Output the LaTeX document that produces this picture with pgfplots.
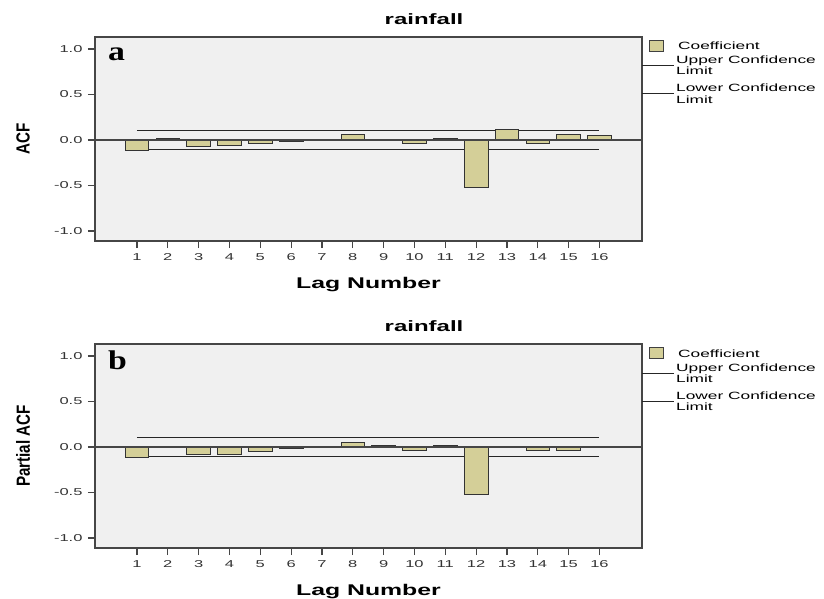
\documentclass[border=0pt]{standalone}
\usepackage{pgfplots}
\usepackage{pgfplotstable}
\pgfplotsset{compat=1.18}
\usepackage{fontspec}
\setmainfont{Liberation Sans}
\newfontfamily\tickfont[FakeStretch=1.65]{Liberation Sans}
\newfontfamily\titlefont[FakeStretch=1.6]{Liberation Sans}
\newfontfamily\ylabfont[FakeStretch=0.8]{Liberation Sans}
\newfontfamily\letterfont[FakeStretch=1.25]{Liberation Serif}
\definecolor{barfill}{RGB}{212,207,152}
\definecolor{plotbg}{RGB}{240,240,240}
\definecolor{framec}{RGB}{70,70,70}

\pgfplotstableread{
lag acf
1 -0.11
2 0.02
3 -0.07
4 -0.06
5 -0.035
6 -0.015
7 0.008
8 0.063
9 0.01
10 -0.035
11 0.02
12 -0.52
13 0.12
14 -0.04
15 0.063
16 0.047
}\acftable

\pgfplotstableread{
lag pacf
1 -0.11
2 0.005
3 -0.08
4 -0.08
5 -0.05
6 -0.02
7 0.0
8 0.047
9 0.02
10 -0.04
11 0.02
12 -0.52
13 0.005
14 -0.04
15 -0.04
16 0.0
}\pacftable

\pgfplotsset{acfstyle/.style={
  scale only axis, width=547pt, height=204pt,
  xmin=-0.362, xmax=17.38, ymin=-1.11, ymax=1.132,
  clip=false,
  axis background/.style={fill=plotbg},
  axis line style={framec, line width=1.2pt},
  xtick={1,2,3,4,5,6,7,8,9,10,11,12,13,14,15,16},
  xticklabels={1,2,3,4,5,6,7,8,9,10,11,12,13,14,15,16},
  ytick={-1,-0.5,0,0.5,1},
  yticklabels={-1.0,-0.5,0.0,0.5,1.0},
  tick align=outside, tick pos=left,
  major tick length=7pt,
  tick style={framec, line width=1.2pt},
  tick label style={font=\tickfont\fontsize{10}{12}\selectfont, text=black!80},
  xticklabel style={yshift=-2pt},
  yticklabel style={xshift=-2pt},
  xlabel={Lag Number},
  xlabel style={at={(axis description cs:0.5,-0.2304)}, anchor=base,
    font=\titlefont\bfseries\fontsize{15.5}{18}\selectfont},
  ylabel style={at={(axis description cs:-0.1316,0.5)}, anchor=center, rotate=0,
    font=\ylabfont\bfseries\fontsize{19}{21}\selectfont},
  title={rainfall},
  title style={at={(axis description cs:0.6015,1.0343)}, anchor=base,
    font=\titlefont\bfseries\fontsize{15}{17}\selectfont},
}}

\newcommand\acflegend[1]{%
  \draw[black!75, fill=barfill, line width=0.8pt]
    ([shift={(7pt,-3pt)}]#1.north east) rectangle ([shift={(21pt,-14pt)}]#1.north east);
  \node[anchor=base west, inner sep=0pt, font=\tickfont\fontsize{10.5}{12}\selectfont]
    at ([shift={(36pt,-13pt)}]#1.north east) {Coefficient};
  \draw[black!85, line width=1pt] ([shift={(0pt,-29pt)}]#1.north east) -- ([shift={(32pt,-29pt)}]#1.north east);
  \node[anchor=base west, inner sep=0pt, font=\tickfont\fontsize{10.5}{12}\selectfont]
    at ([shift={(34pt,-27pt)}]#1.north east) {Upper Confidence};
  \node[anchor=base west, inner sep=0pt, font=\tickfont\fontsize{10.5}{12}\selectfont]
    at ([shift={(34pt,-38pt)}]#1.north east) {Limit};
  \draw[black!85, line width=1pt] ([shift={(0pt,-57pt)}]#1.north east) -- ([shift={(32pt,-57pt)}]#1.north east);
  \node[anchor=base west, inner sep=0pt, font=\tickfont\fontsize{10.5}{12}\selectfont]
    at ([shift={(34pt,-55pt)}]#1.north east) {Lower Confidence};
  \node[anchor=base west, inner sep=0pt, font=\tickfont\fontsize{10.5}{12}\selectfont]
    at ([shift={(34pt,-66pt)}]#1.north east) {Limit};
}

\begin{document}
\begin{tikzpicture}
\useasboundingbox (0,0) rectangle (824pt,-599pt);

\begin{axis}[acfstyle, name=top, at={(95pt,-37pt)}, anchor=north west, ylabel={ACF}]
  \addplot[black!85, line width=1pt] coordinates {(1,0.108) (16,0.108)};
  \addplot[black!85, line width=1pt] coordinates {(1,-0.108) (16,-0.108)};
  \addplot[ybar, bar width=0.765, fill=barfill, draw=black!80, line width=0.8pt]
    table[x=lag, y=acf] {\acftable};
  \addplot[framec, line width=1.2pt] coordinates {(-0.362,0) (17.38,0)};
  \node[anchor=base west, inner sep=0pt, font=\letterfont\bfseries\fontsize{27}{28}\selectfont]
    at (axis description cs:0.0238,0.887) {a};
\end{axis}
\acflegend{top}

\begin{axis}[acfstyle, name=bot, at={(95pt,-344pt)}, anchor=north west, ylabel={Partial ACF}]
  \addplot[black!85, line width=1pt] coordinates {(1,0.108) (16,0.108)};
  \addplot[black!85, line width=1pt] coordinates {(1,-0.108) (16,-0.108)};
  \addplot[ybar, bar width=0.765, fill=barfill, draw=black!80, line width=0.8pt]
    table[x=lag, y=pacf] {\pacftable};
  \addplot[framec, line width=1.2pt] coordinates {(-0.362,0) (17.38,0)};
  \node[anchor=base west, inner sep=0pt, font=\letterfont\bfseries\fontsize{27}{28}\selectfont]
    at (axis description cs:0.0238,0.877) {b};
\end{axis}
\acflegend{bot}
\end{tikzpicture}
\end{document}
